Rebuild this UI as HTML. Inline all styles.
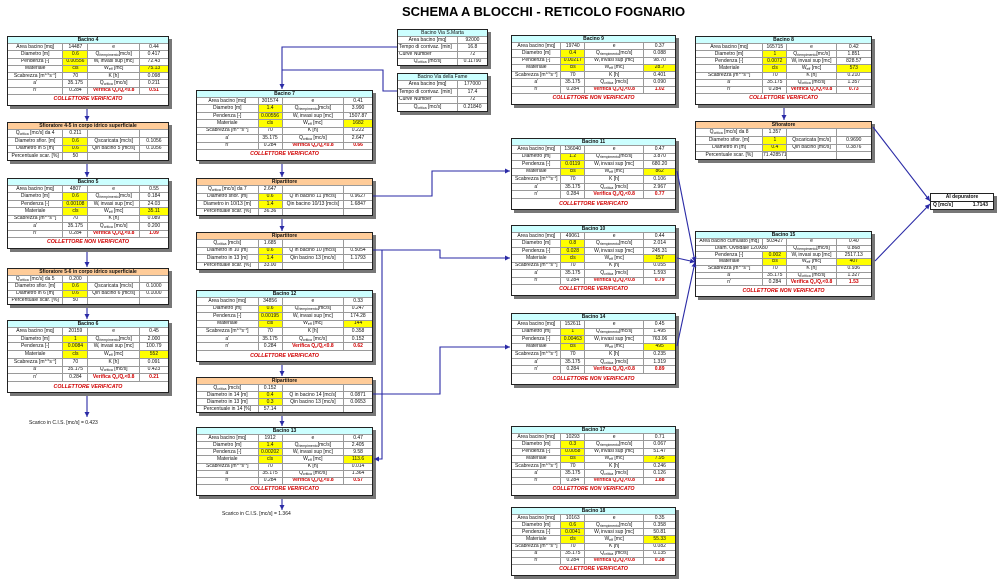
<!DOCTYPE html>
<html><head><meta charset="utf-8">
<style>
*{box-sizing:border-box}
body{margin:0;width:1000px;height:582px;position:relative;background:#fff;overflow:hidden;font-family:"Liberation Sans",Arial,sans-serif;color:#111}
.t{position:absolute;left:402px;top:5px;font-size:13px;line-height:13px;font-weight:bold;white-space:nowrap;color:#000}
.g{position:absolute;display:grid;gap:1px;background:#9a9a9a;border:1px solid #222;box-shadow:3px 3px 0 #777}
.B{grid-template-rows:6px repeat(7,minmax(0,1fr)) 10px}
.Q{grid-template-rows:6px repeat(4,minmax(0,1fr))}
.L{grid-template-columns:minmax(0,34.6fr) minmax(0,15.4fr) minmax(0,32.1fr) minmax(0,17.9fr)}
.M{grid-template-columns:minmax(0,35.2fr) minmax(0,13.4fr) minmax(0,35.2fr) minmax(0,16.2fr)}
.N{grid-template-columns:minmax(0,30.3fr) minmax(0,14.1fr) minmax(0,36.4fr) minmax(0,19.2fr)}
.R{grid-template-columns:minmax(0,38.5fr) minmax(0,13.5fr) minmax(0,28fr) minmax(0,20fr)}
.S{grid-template-columns:minmax(0,67fr) minmax(0,33fr)}
c{display:flex;align-items:center;justify-content:center;background:#fff;font-size:5px;line-height:5px;white-space:nowrap;overflow:hidden}
c.h{grid-column:1/-1;background:#ccffff;font-weight:bold}
.o c.h{background:#fc9}
c.f{grid-column:1/-1;color:#d00000;font-weight:bold;font-style:italic;font-size:5.3px}
c.y{background:#ff0}
c.r{color:#d00000;font-weight:bold}
c.l{justify-content:flex-start;padding-left:1px}
c.s2{grid-column:span 2}
c span{white-space:nowrap}
sub{font-size:3.5px;vertical-align:-1px;line-height:0}
sup{font-size:3.5px;vertical-align:2px;line-height:0}
.tx{position:absolute;font-size:5px;line-height:5px;white-space:nowrap}
.ad{position:absolute;left:930px;top:193px;width:64px;height:17px;border:1px solid #222;box-shadow:3px 3px 0 #777;background:#fff;font-size:5px;line-height:5px;font-weight:bold}
.ad div{height:7.5px;display:flex;align-items:center;white-space:nowrap}
svg{position:absolute;left:0;top:0;z-index:2}
</style></head><body>

<div class="t">SCHEMA A BLOCCHI - RETICOLO FOGNARIO</div>

<!-- LEFT COLUMN -->
<div class="g B L" style="left:7px;top:36px;width:162px;height:70px">
<c class="h">Bacino 4</c>
<c>Area bacino [mq]</c><c>14487</c><c>e</c><c>0.44</c>
<c>Diametro [m]</c><c class="y">0.6</c><c><span>Q<sub>riempimento</sub>[mc/s]</span></c><c>0.417</c>
<c>Pendenza [-]</c><c class="y">0.00556</c><c><span>W<sub>i</sub> invasi sup [mc]</span></c><c>72.43</c>
<c>Materiale</c><c class="y">cls</c><c><span>W<sub>eff</sub> [mc]</span></c><c class="y">75.13</c>
<c><span>Scabrezza [m<sup>1/3</sup>s<sup>-1</sup>]</span></c><c>70</c><c>K [h]</c><c>0.098</c>
<c>a'</c><c>35.175</c><c><span>Q<sub>critica</sub> [mc/s]</span></c><c>0.211</c>
<c>n'</c><c>0.284</c><c class="r"><span>Verifica Q<sub>c</sub>/Q<sub>r</sub>&lt;0.8</span></c><c class="r">0.51</c>
<c class="f">COLLETTORE VERIFICATO</c></div>

<div class="g Q L o" style="left:7px;top:122px;width:162px;height:39px">
<c class="h">Sfioratore 4-5 in corpo idrico superficiale</c>
<c><span>Q<sub>critica</sub> [mc/s] da 4</span></c><c>0.211</c><c></c><c></c>
<c>Diametro sfior. [m]</c><c class="y">0.6</c><c>Qscaricata [mc/s]</c><c>0.1056</c>
<c>Diametro in 5 [m]</c><c class="y">0.6</c><c>Qin bacino 5 [mc/s]</c><c>0.1056</c>
<c>Percentuale scar. [%]</c><c>50</c><c></c><c></c></div>

<div class="g B L" style="left:7px;top:178px;width:162px;height:71px">
<c class="h">Bacino 5</c>
<c>Area bacino [mq]</c><c>4807</c><c>e</c><c>0.55</c>
<c>Diametro [m]</c><c class="y">0.6</c><c><span>Q<sub>riempimento</sub>[mc/s]</span></c><c>0.184</c>
<c>Pendenza [-]</c><c class="y">0.00108</c><c><span>W<sub>i</sub> invasi sup [mc]</span></c><c>24.03</c>
<c>Materiale</c><c class="y">cls</c><c><span>W<sub>eff</sub> [mc]</span></c><c class="y">35.11</c>
<c><span>Scabrezza [m<sup>1/3</sup>s<sup>-1</sup>]</span></c><c>70</c><c>K [h]</c><c>0.089</c>
<c>a'</c><c>35.175</c><c><span>Q<sub>critica</sub> [mc/s]</span></c><c>0.200</c>
<c>n'</c><c>0.284</c><c class="r"><span>Verifica Q<sub>c</sub>/Q<sub>r</sub>&lt;0.8</span></c><c class="r">1.09</c>
<c class="f">COLLETTORE NON VERIFICATO</c></div>

<div class="g Q L o" style="left:7px;top:268px;width:162px;height:37px">
<c class="h">Sfioratore 5-6 in corpo idrico superficiale</c>
<c><span>Q<sub>critica</sub> [mc/s] da 5</span></c><c>0.200</c><c></c><c></c>
<c>Diametro sfior. [m]</c><c class="y">0.6</c><c>Qscaricata [mc/s]</c><c>0.1000</c>
<c>Diametro in 6 [m]</c><c class="y">0.6</c><c>Qin bacino 6 [mc/s]</c><c>0.1000</c>
<c>Percentuale scar. [%]</c><c>50</c><c></c><c></c></div>

<div class="g B L" style="left:7px;top:320px;width:162px;height:73px">
<c class="h">Bacino 6</c>
<c>Area bacino [mq]</c><c>20159</c><c>e</c><c>0.45</c>
<c>Diametro [m]</c><c class="y">1</c><c><span>Q<sub>riempimento</sub>[mc/s]</span></c><c>2.000</c>
<c>Pendenza [-]</c><c class="y">0.0084</c><c><span>W<sub>i</sub> invasi sup [mc]</span></c><c>100.79</c>
<c>Materiale</c><c class="y">cls</c><c><span>W<sub>eff</sub> [mc]</span></c><c class="y">552</c>
<c><span>Scabrezza [m<sup>1/3</sup>s<sup>-1</sup>]</span></c><c>70</c><c>K [h]</c><c>0.091</c>
<c>a'</c><c>35.175</c><c><span>Q<sub>critica</sub> [mc/s]</span></c><c>0.423</c>
<c>n'</c><c>0.284</c><c class="r"><span>Verifica Q<sub>c</sub>/Q<sub>r</sub>&lt;0.8</span></c><c class="r">0.21</c>
<c class="f">COLLETTORE VERIFICATO</c></div>

<div class="tx" style="left:29px;top:421px">Scarico in C.I.S. [mc/s] = 0.423</div>

<!-- CENTER SMALL TABLES -->
<div class="g Q S" style="left:397px;top:29px;width:91px;height:37px">
<c class="h" style="font-weight:normal">Bacino Via S.Marta</c>
<c>Area bacino [mq]</c><c>92000</c>
<c class="l">Tempo di corrivaz. [min]</c><c>16.8</c>
<c class="l">Curve Number</c><c>72</c>
<c><span>Q<sub>critica</sub> [mc/s]</span></c><c>0.11790</c></div>

<div class="g Q S" style="left:397px;top:73px;width:91px;height:39px">
<c class="h" style="font-weight:normal">Bacino Via della Fame</c>
<c>Area bacino [mq]</c><c>177000</c>
<c class="l">Tempo di corrivaz. [min]</c><c>17.4</c>
<c class="l">Curve Number</c><c>72</c>
<c><span>Q<sub>critica</sub> [mc/s]</span></c><c>0.21840</c></div>

<!-- MIDDLE COLUMN -->
<div class="g B M" style="left:196px;top:90px;width:177px;height:71px">
<c class="h">Bacino 7</c>
<c>Area bacino [mq]</c><c>301574</c><c>e</c><c>0.41</c>
<c>Diametro [m]</c><c class="y">1.4</c><c><span>Q<sub>riempimento</sub>[mc/s]</span></c><c>3.990</c>
<c>Pendenza [-]</c><c class="y">0.00556</c><c><span>W<sub>i</sub> invasi sup [mc]</span></c><c>1507.87</c>
<c>Materiale</c><c class="y">cls</c><c><span>W<sub>eff</sub> [mc]</span></c><c class="y">1682</c>
<c><span>Scabrezza [m<sup>1/3</sup>s<sup>-1</sup>]</span></c><c>70</c><c>K [h]</c><c>0.222</c>
<c>a'</c><c>35.175</c><c><span>Q<sub>critica</sub> [mc/s]</span></c><c>2.647</c>
<c>n'</c><c>0.284</c><c class="r"><span>Verifica Q<sub>c</sub>/Q<sub>r</sub>&lt;0.8</span></c><c class="r">0.66</c>
<c class="f">COLLETTORE VERIFICATO</c></div>

<div class="g Q M o" style="left:196px;top:178px;width:177px;height:38px">
<c class="h">Ripartitore</c>
<c><span>Q<sub>critica</sub> [mc/s] da 7</span></c><c>2.647</c><c></c><c></c>
<c>Diametro sfior. [m]</c><c class="y">0.6</c><c>Q in bacino 11 [mc/s]</c><c>0.9627</c>
<c>Diametro in 10/13 [m]</c><c class="y">1.4</c><c>Qin bacino 10/13 [mc/s]</c><c>1.6847</c>
<c>Percentuale scar. [%]</c><c>36.36</c><c></c><c></c></div>

<div class="g Q M o" style="left:196px;top:232px;width:177px;height:38px">
<c class="h">Ripartitore</c>
<c><span>Q<sub>critica</sub> [mc/s]</span></c><c>1.685</c><c></c><c></c>
<c>Diametro in 10 [m]</c><c class="y">0.6</c><c>Q in bacino 10 [mc/s]</c><c>0.5054</c>
<c>Diametro in 13 [m]</c><c class="y">1.4</c><c>Qin bacino 13 [mc/s]</c><c>1.1793</c>
<c>Percentuale scar. [%]</c><c>33.00</c><c></c><c></c></div>

<div class="g B M" style="left:196px;top:290px;width:177px;height:72px">
<c class="h">Bacino 12</c>
<c>Area bacino [mq]</c><c>34856</c><c>e</c><c>0.33</c>
<c>Diametro [m]</c><c class="y">0.6</c><c><span>Q<sub>riempimento</sub>[mc/s]</span></c><c>0.247</c>
<c>Pendenza [-]</c><c class="y">0.00195</c><c><span>W<sub>i</sub> invasi sup [mc]</span></c><c>174.28</c>
<c>Materiale</c><c class="y">cls</c><c><span>W<sub>eff</sub> [mc]</span></c><c class="y">144</c>
<c><span>Scabrezza [m<sup>1/3</sup>s<sup>-1</sup>]</span></c><c>70</c><c>K [h]</c><c>0.358</c>
<c>a'</c><c>35.175</c><c><span>Q<sub>critica</sub> [mc/s]</span></c><c>0.152</c>
<c>n'</c><c>0.284</c><c class="r"><span>Verifica Q<sub>c</sub>/Q<sub>r</sub>&lt;0.8</span></c><c class="r">0.62</c>
<c class="f">COLLETTORE VERIFICATO</c></div>

<div class="g Q M o" style="left:196px;top:377px;width:177px;height:36px">
<c class="h">Ripartitore</c>
<c><span>Q<sub>critica</sub> [mc/s]</span></c><c>0.152</c><c></c><c></c>
<c>Diametro in 14 [m]</c><c class="y">0.4</c><c>Q in bacino 14 [mc/s]</c><c>0.0871</c>
<c>Diametro in 13 [m]</c><c class="y">0.3</c><c>Qin bacino 13 [mc/s]</c><c>0.0653</c>
<c>Percentuale in 14 [%]</c><c>57.14</c><c></c><c></c></div>

<div class="g B M" style="left:196px;top:427px;width:177px;height:69px">
<c class="h">Bacino 13</c>
<c>Area bacino [mq]</c><c>1912</c><c>e</c><c>0.47</c>
<c>Diametro [m]</c><c class="y">1.4</c><c><span>Q<sub>riempimento</sub>[mc/s]</span></c><c>2.405</c>
<c>Pendenza [-]</c><c class="y">0.00202</c><c><span>W<sub>i</sub> invasi sup [mc]</span></c><c>9.58</c>
<c>Materiale</c><c class="y">cls</c><c><span>W<sub>eff</sub> [mc]</span></c><c class="y">113.6</c>
<c><span>Scabrezza [m<sup>1/3</sup>s<sup>-1</sup>]</span></c><c>70</c><c>K [h]</c><c>0.014</c>
<c>a'</c><c>35.175</c><c><span>Q<sub>critica</sub> [mc/s]</span></c><c>1.364</c>
<c>n'</c><c>0.284</c><c class="r"><span>Verifica Q<sub>c</sub>/Q<sub>r</sub>&lt;0.8</span></c><c class="r">0.57</c>
<c class="f">COLLETTORE VERIFICATO</c></div>

<div class="tx" style="left:222px;top:512px">Scarico in C.I.S. [mc/s] = 1.364</div>

<!-- RIGHT-MID COLUMN -->
<div class="g B N" style="left:511px;top:35px;width:165px;height:70px">
<c class="h">Bacino 9</c>
<c>Area bacino [mq]</c><c>19740</c><c>e</c><c>0.37</c>
<c>Diametro [m]</c><c class="y">0.4</c><c><span>Q<sub>riempimento</sub>[mc/s]</span></c><c>0.088</c>
<c>Pendenza [-]</c><c class="y">0.00217</c><c><span>W<sub>i</sub> invasi sup [mc]</span></c><c>98.70</c>
<c>Materiale</c><c class="y">cls</c><c><span>W<sub>eff</sub> [mc]</span></c><c class="y">28.7</c>
<c><span>Scabrezza [m<sup>1/3</sup>s<sup>-1</sup>]</span></c><c>70</c><c>K [h]</c><c>0.401</c>
<c>a'</c><c>35.175</c><c><span>Q<sub>critica</sub> [mc/s]</span></c><c>0.090</c>
<c>n'</c><c>0.284</c><c class="r"><span>Verifica Q<sub>c</sub>/Q<sub>r</sub>&lt;0.8</span></c><c class="r">1.02</c>
<c class="f">COLLETTORE NON VERIFICATO</c></div>

<div class="g B N" style="left:511px;top:138px;width:165px;height:72px">
<c class="h">Bacino 11</c>
<c>Area bacino [mq]</c><c>136040</c><c>e</c><c>0.47</c>
<c>Diametro [m]</c><c class="y">1.2</c><c><span>Q<sub>riempimento</sub>[mc/s]</span></c><c>3.870</c>
<c>Pendenza [-]</c><c class="y">0.0119</c><c><span>W<sub>i</sub> invasi sup [mc]</span></c><c>680.20</c>
<c>Materiale</c><c class="y">cls</c><c><span>W<sub>eff</sub> [mc]</span></c><c class="y">862</c>
<c><span>Scabrezza [m<sup>1/3</sup>s<sup>-1</sup>]</span></c><c>70</c><c>K [h]</c><c>0.106</c>
<c>a'</c><c>35.175</c><c><span>Q<sub>critica</sub> [mc/s]</span></c><c>2.967</c>
<c>n'</c><c>0.284</c><c class="r"><span>Verifica Q<sub>c</sub>/Q<sub>r</sub>&lt;0.8</span></c><c class="r">0.77</c>
<c class="f">COLLETTORE VERIFICATO</c></div>

<div class="g B N" style="left:511px;top:225px;width:165px;height:71px">
<c class="h">Bacino 10</c>
<c>Area bacino [mq]</c><c>49061</c><c>e</c><c>0.44</c>
<c>Diametro [m]</c><c class="y">0.8</c><c><span>Q<sub>riempimento</sub>[mc/s]</span></c><c>2.014</c>
<c>Pendenza [-]</c><c class="y">0.028</c><c><span>W<sub>i</sub> invasi sup [mc]</span></c><c>245.31</c>
<c>Materiale</c><c class="y">cls</c><c><span>W<sub>eff</sub> [mc]</span></c><c class="y">157</c>
<c><span>Scabrezza [m<sup>1/3</sup>s<sup>-1</sup>]</span></c><c>70</c><c>K [h]</c><c>0.055</c>
<c>a'</c><c>35.175</c><c><span>Q<sub>critica</sub> [mc/s]</span></c><c>1.593</c>
<c>n'</c><c>0.284</c><c class="r"><span>Verifica Q<sub>c</sub>/Q<sub>r</sub>&lt;0.8</span></c><c class="r">0.79</c>
<c class="f">COLLETTORE VERIFICATO</c></div>

<div class="g B N" style="left:511px;top:313px;width:165px;height:72px">
<c class="h">Bacino 14</c>
<c>Area bacino [mq]</c><c>152611</c><c>e</c><c>0.45</c>
<c>Diametro [m]</c><c class="y">1</c><c><span>Q<sub>riempimento</sub>[mc/s]</span></c><c>1.495</c>
<c>Pendenza [-]</c><c class="y">0.00463</c><c><span>W<sub>i</sub> invasi sup [mc]</span></c><c>763.06</c>
<c>Materiale</c><c class="y">cls</c><c><span>W<sub>eff</sub> [mc]</span></c><c class="y">495</c>
<c><span>Scabrezza [m<sup>1/3</sup>s<sup>-1</sup>]</span></c><c>70</c><c>K [h]</c><c>0.235</c>
<c>a'</c><c>35.175</c><c><span>Q<sub>critica</sub> [mc/s]</span></c><c>1.319</c>
<c>n'</c><c>0.284</c><c class="r"><span>Verifica Q<sub>c</sub>/Q<sub>r</sub>&lt;0.8</span></c><c class="r">0.89</c>
<c class="f">COLLETTORE NON VERIFICATO</c></div>

<div class="g B N" style="left:511px;top:426px;width:165px;height:70px">
<c class="h">Bacino 17</c>
<c>Area bacino [mq]</c><c>10293</c><c>e</c><c>0.71</c>
<c>Diametro [m]</c><c class="y">0.3</c><c><span>Q<sub>riempimento</sub>[mc/s]</span></c><c>0.067</c>
<c>Pendenza [-]</c><c class="y">0.0058</c><c><span>W<sub>i</sub> invasi sup [mc]</span></c><c>51.47</c>
<c>Materiale</c><c class="y">cls</c><c><span>W<sub>eff</sub> [mc]</span></c><c class="y">7.95</c>
<c><span>Scabrezza [m<sup>1/3</sup>s<sup>-1</sup>]</span></c><c>70</c><c>K [h]</c><c>0.246</c>
<c>a'</c><c>35.175</c><c><span>Q<sub>critica</sub> [mc/s]</span></c><c>0.126</c>
<c>n'</c><c>0.284</c><c class="r"><span>Verifica Q<sub>c</sub>/Q<sub>r</sub>&lt;0.8</span></c><c class="r">1.88</c>
<c class="f">COLLETTORE NON VERIFICATO</c></div>

<div class="g B N" style="left:511px;top:507px;width:165px;height:69px">
<c class="h">Bacino 18</c>
<c>Area bacino [mq]</c><c>10163</c><c>e</c><c>0.35</c>
<c>Diametro [m]</c><c class="y">0.6</c><c><span>Q<sub>riempimento</sub>[mc/s]</span></c><c>0.358</c>
<c>Pendenza [-]</c><c class="y">0.0041</c><c><span>W<sub>i</sub> invasi sup [mc]</span></c><c>50.81</c>
<c>Materiale</c><c class="y">cls</c><c><span>W<sub>eff</sub> [mc]</span></c><c class="y">55.33</c>
<c><span>Scabrezza [m<sup>1/3</sup>s<sup>-1</sup>]</span></c><c>70</c><c>K [h]</c><c>0.082</c>
<c>a'</c><c>35.175</c><c><span>Q<sub>critica</sub> [mc/s]</span></c><c>0.135</c>
<c>n'</c><c>0.284</c><c class="r"><span>Verifica Q<sub>c</sub>/Q<sub>r</sub>&lt;0.8</span></c><c class="r">0.38</c>
<c class="f">COLLETTORE VERIFICATO</c></div>

<!-- RIGHT COLUMN -->
<div class="g B R" style="left:695px;top:36px;width:177px;height:69px">
<c class="h">Bacino 8</c>
<c>Area bacino [mq]</c><c>165715</c><c>e</c><c>0.42</c>
<c>Diametro [m]</c><c class="y">1</c><c><span>Q<sub>riempimento</sub>[mc/s]</span></c><c>1.851</c>
<c>Pendenza [-]</c><c class="y">0.0072</c><c><span>W<sub>i</sub> invasi sup [mc]</span></c><c>828.57</c>
<c>Materiale</c><c class="y">cls</c><c><span>W<sub>eff</sub> [mc]</span></c><c class="y">573</c>
<c><span>Scabrezza [m<sup>1/3</sup>s<sup>-1</sup>]</span></c><c>70</c><c>K [h]</c><c>0.210</c>
<c>a'</c><c>35.175</c><c><span>Q<sub>critica</sub> [mc/s]</span></c><c>1.357</c>
<c>n'</c><c>0.284</c><c class="r"><span>Verifica Q<sub>c</sub>/Q<sub>r</sub>&lt;0.8</span></c><c class="r">0.73</c>
<c class="f">COLLETTORE VERIFICATO</c></div>

<div class="g Q R o" style="left:695px;top:121px;width:177px;height:39px">
<c class="h">Sfioratore</c>
<c><span>Q<sub>critica</sub> [mc/s] da 8</span></c><c>1.357</c><c></c><c></c>
<c>Diametro sfior. [m]</c><c class="y">1</c><c>Qscaricata [mc/s]</c><c>0.9690</c>
<c>Diametro in [m]</c><c class="y">0.4</c><c>Qin bacino [mc/s]</c><c>0.3876</c>
<c>Percentuale scar. [%]</c><c>71.428571</c><c></c><c></c></div>

<div class="g B R" style="left:695px;top:231px;width:177px;height:66px">
<c class="h">Bacino 15</c>
<c>Area bacino cumulato [mq]</c><c>503427</c><c>e</c><c>0.40</c>
<c class="s2">Diam. Ovoidale 120X80</c><c><span>Q<sub>riempimento</sub>[mc/s]</span></c><c>0.868</c>
<c>Pendenza [-]</c><c class="y">0.002</c><c><span>W<sub>i</sub> invasi sup [mc]</span></c><c>2517.13</c>
<c>Materiale</c><c class="y">cls</c><c><span>W<sub>eff</sub> [mc]</span></c><c class="y">407</c>
<c><span>Scabrezza [m<sup>1/3</sup>s<sup>-1</sup>]</span></c><c>70</c><c>K [h]</c><c>0.936</c>
<c>a'</c><c>35.175</c><c><span>Q<sub>critica</sub> [mc/s]</span></c><c>1.327</c>
<c>n'</c><c>0.284</c><c class="r"><span>Verifica Q<sub>c</sub>/Q<sub>r</sub>&lt;0.8</span></c><c class="r">1.53</c>
<c class="f">COLLETTORE NON VERIFICATO</c></div>

<div class="ad">
<div style="justify-content:center;border-bottom:1px solid #222">Al depuratore</div>
<div style="justify-content:space-between;padding:0 5px 0 2px"><span>Q [mc/s]</span><span>1.7143</span></div>
</div>

<!-- CONNECTORS -->
<svg width="1000" height="582" viewBox="0 0 1000 582">
<defs><marker id="a" markerWidth="6" markerHeight="6" refX="5" refY="2.5" orient="auto" markerUnits="userSpaceOnUse"><path d="M0,0 L5,2.5 L0,5 z" fill="#2a2aa6"/></marker></defs>
<g fill="none" stroke="#2a2aa6" stroke-width="1.1" marker-end="url(#a)">
<line x1="87" y1="109" x2="87" y2="121"/>
<line x1="87" y1="164" x2="87" y2="177"/>
<line x1="87" y1="252" x2="87" y2="267"/>
<line x1="87" y1="308" x2="87" y2="319"/>
<line x1="87" y1="396" x2="87" y2="417"/>
<polyline points="397,47 282,47 282,89"/>
<line x1="282" y1="164" x2="282" y2="177"/>
<line x1="282" y1="219" x2="282" y2="231"/>
<line x1="282" y1="365" x2="282" y2="376"/>
<line x1="282" y1="416" x2="282" y2="426"/>
<line x1="282" y1="499" x2="282" y2="510"/>
<polyline points="373,196 432,196 432,171 510,171"/>
<polyline points="373,250 440,250 440,258 510,258"/>
<polyline points="382,250 382,459 374,459"/>
<polyline points="373,394 440,394 440,347 510,347"/>
<line x1="677" y1="171" x2="695" y2="262"/>
<line x1="677" y1="258" x2="695" y2="262"/>
<line x1="677" y1="346" x2="695" y2="262"/>
<line x1="784" y1="108" x2="784" y2="120"/>
<line x1="873" y1="127" x2="930" y2="201"/>
<line x1="875" y1="261" x2="930" y2="204"/>
</g>
<polyline points="397,91 383,91 383,70 282,70" fill="none" stroke="#2a2aa6" stroke-width="1.1"/>
</svg>
</body></html>
